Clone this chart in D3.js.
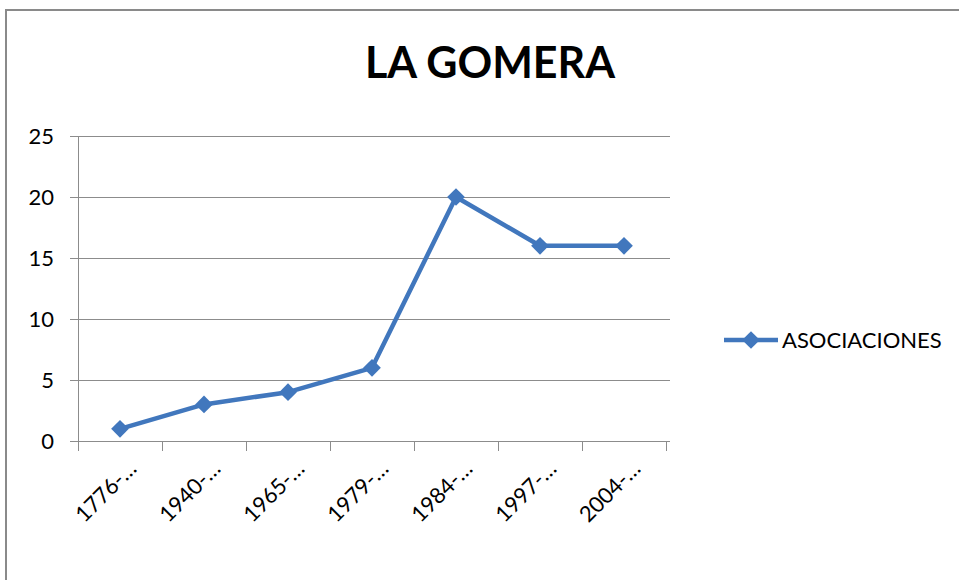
<!DOCTYPE html>
<html>
<head>
<meta charset="utf-8">
<script src="https://cdn.jsdelivr.net/npm/d3@7"></script>
<style>
body { margin: 0; background: #fff; }
text { font-family: Lato, "Open Sans", sans-serif; fill: #000; }
</style>
</head>
<body>
<svg id="chart" width="959" height="580"></svg>
<script>
var categories = ['1776-…', '1940-…', '1965-…', '1979-…', '1984-…', '1997-…', '2004-…'];
var asociaciones = [1, 3, 4, 6, 20, 16, 16];
var yTicks = [0, 5, 10, 15, 20, 25];
var seriesName = 'ASOCIACIONES';
var title = 'LA GOMERA';

var svg = d3.select('#chart');
var blue = '#4177bd';

// chart frame
svg.append('rect')
    .attr('x', 6).attr('y', 10)
    .attr('width', 980).attr('height', 600)
    .attr('fill', 'none')
    .attr('stroke', '#8a8a8a')
    .attr('stroke-width', 2);

svg.append('text')
    .attr('x', 490).attr('y', 78)
    .attr('text-anchor', 'middle')
    .style('font-size', '43px')
    .style('font-weight', 'bold')
    .text(title);

var x = d3.scaleBand()
    .domain(categories)
    .range([78, 666]);

var y = d3.scaleLinear()
    .domain([0, 25])
    .range([441, 136]);

// gridlines
svg.append('g')
    .selectAll('line')
    .data(yTicks)
    .enter()
    .append('line')
    .attr('x1', 70).attr('x2', 670)
    .attr('y1', function (d) { return y(d) + 0.5; })
    .attr('y2', function (d) { return y(d) + 0.5; })
    .attr('stroke', '#8c8c8c')
    .attr('stroke-width', 1);

// y axis
svg.append('line')
    .attr('x1', 78.5).attr('x2', 78.5)
    .attr('y1', 136).attr('y2', 442)
    .attr('stroke', '#8c8c8c');

svg.append('g')
    .selectAll('text')
    .data(yTicks)
    .enter()
    .append('text')
    .attr('x', 54)
    .attr('y', function (d) { return y(d) + 8; })
    .attr('text-anchor', 'end')
    .style('font-size', '22px')
    .text(String);

// x axis ticks
var xTickPos = categories.map(function (c) { return x(c); }).concat([x.range()[1]]);
svg.append('g')
    .selectAll('line')
    .data(xTickPos)
    .enter()
    .append('line')
    .attr('x1', function (d) { return d + 0.5; })
    .attr('x2', function (d) { return d + 0.5; })
    .attr('y1', 441).attr('y2', 451)
    .attr('stroke', '#8c8c8c');

svg.append('g')
    .selectAll('text')
    .data(categories)
    .enter()
    .append('text')
    .attr('text-anchor', 'end')
    .attr('transform', function (d) {
        var cx = x(d) + x.bandwidth() / 2 + 18;
        return 'translate(' + cx + ',' + 470 + ') rotate(-45)';
    })
    .style('font-size', '22px')
    .text(String);

// series
var line = d3.line()
    .x(function (d, i) { return x(categories[i]) + x.bandwidth() / 2; })
    .y(function (d) { return y(d); });

svg.append('path')
    .datum(asociaciones)
    .attr('d', line)
    .attr('fill', 'none')
    .attr('stroke', blue)
    .attr('stroke-width', 4.5)
    .attr('stroke-linejoin', 'round');

var diamond = d3.symbol().type(d3.symbolDiamond2).size(200);

svg.append('g')
    .selectAll('path')
    .data(asociaciones)
    .enter()
    .append('path')
    .attr('d', diamond)
    .attr('transform', function (d, i) {
        return 'translate(' + (x(categories[i]) + x.bandwidth() / 2) + ',' + y(d) + ')';
    })
    .attr('fill', blue);

// legend
var lg = svg.append('g').attr('transform', 'translate(724,340)');
lg.append('line')
    .attr('x1', 0).attr('x2', 54)
    .attr('stroke', blue)
    .attr('stroke-width', 4.5);
lg.append('path')
    .attr('d', diamond)
    .attr('transform', 'translate(27,0)')
    .attr('fill', blue);
lg.append('text')
    .attr('x', 58).attr('y', 8)
    .style('font-size', '22px')
    .text(seriesName);
</script>
</body>
</html>
